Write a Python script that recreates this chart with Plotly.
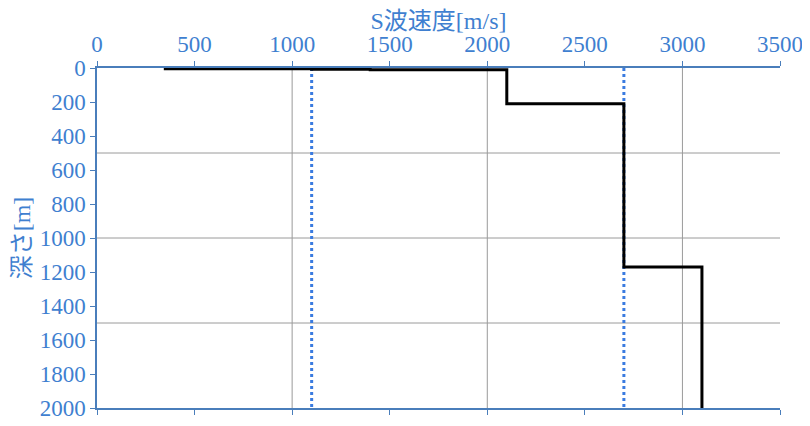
import plotly.graph_objects as go

# Layered S-wave velocity model (layer bottoms in m, Vs in m/s)
layer_bottom = [5, 7, 10, 210, 1170, 2000]
layer_vs = [350, 1100, 1400, 2100, 2700, 3100]

# Reference velocities (dotted lines)
ref_vs = [1100, 2700]

x_ticks = [0, 500, 1000, 1500, 2000, 2500, 3000, 3500]
y_ticks = [0, 200, 400, 600, 800, 1000, 1200, 1400, 1600, 1800, 2000]
x_grid = [1000, 2000, 3000]
y_grid = [500, 1000, 1500]

x_range = [0, 3500]
y_range = [2000, 0]

# Build step profile
xs, ys = [], []
top = 0
for b, v in zip(layer_bottom, layer_vs):
    xs += [v, v]
    ys += [top, b]
    top = b

blue = "#3f7fd0"
axis_blue = "#4a7ebb"
font_fam = "Liberation Serif, Noto Sans CJK JP, serif"

fig = go.Figure()
for v in ref_vs:
    fig.add_trace(go.Scatter(x=[v, v], y=[y_range[1], y_range[0]], mode="lines",
                             line=dict(color="#3a7be0", width=3, dash="dot"),
                             showlegend=False, hoverinfo="skip"))
fig.add_trace(go.Scatter(x=xs, y=ys, mode="lines",
                         line=dict(color="black", width=3),
                         showlegend=False))

shapes = []
for gx in x_grid:
    shapes.append(dict(type="line", xref="x", yref="paper", x0=gx, x1=gx, y0=0, y1=1,
                       line=dict(color="#9a9a9a", width=1), layer="below"))
for gy in y_grid:
    shapes.append(dict(type="line", xref="paper", yref="y", x0=0, x1=1, y0=gy, y1=gy,
                       line=dict(color="#9a9a9a", width=1), layer="below"))

# page body has an 8px margin, so the figure is sized to fit the window
fig.update_layout(
    width=802, height=418,
    margin=dict(l=89, r=30, t=60, b=18),
    paper_bgcolor="white", plot_bgcolor="white",
    font=dict(family=font_fam, color=blue, size=23),
    shapes=shapes,
    xaxis=dict(
        side="top", range=x_range, tickvals=x_ticks, ticktext=[str(t) for t in x_ticks],
        showgrid=False, zeroline=False, automargin=False,
        showline=True, linecolor=axis_blue, linewidth=1.5, mirror="ticks",
        ticks="outside", ticklen=5, tickcolor=axis_blue,
        tickfont=dict(family=font_fam, size=23, color=blue),
        title=dict(text="S波速度[m/s]", font=dict(family=font_fam, size=24, color=blue), standoff=7),
    ),
    yaxis=dict(
        range=y_range, tickvals=y_ticks, ticktext=[str(t) for t in y_ticks],
        showgrid=False, zeroline=False, automargin=False,
        showline=True, linecolor=axis_blue, linewidth=1.5,
        ticks="outside", ticklen=5, tickcolor=axis_blue,
        tickfont=dict(family=font_fam, size=23, color=blue),
        title=dict(text="深さ[m]", font=dict(family=font_fam, size=24, color=blue), standoff=2),
    ),
)

fig.write_html("out.html")
